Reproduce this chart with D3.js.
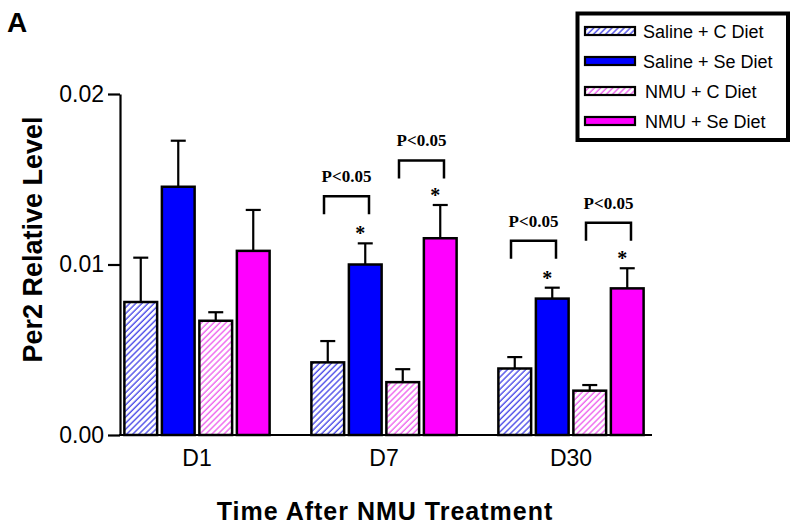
<!DOCTYPE html>
<html><head><meta charset="utf-8">
<script src="https://cdn.jsdelivr.net/npm/d3@7/dist/d3.min.js"></script>
<style>
body{margin:0;background:#fff;}
svg{display:block;}
</style></head>
<body>
<svg id="chart" width="800" height="529"></svg>
<script>
const groups = ["D1", "D7", "D30"];
const series = ["Saline + C Diet", "Saline + Se Diet", "NMU + C Diet", "NMU + Se Diet"];
const salineC = [0.0078, 0.00426, 0.0039];
const salineSe = [0.01456, 0.0100, 0.0080];
const nmuC = [0.0067, 0.0031, 0.0026];
const nmuSe = [0.0108, 0.01154, 0.0086];
const salineCErr = [0.0026, 0.00125, 0.00067];
const salineSeErr = [0.0027, 0.00124, 0.00064];
const nmuCErr = [0.0005, 0.00076, 0.00033];
const nmuSeErr = [0.0024, 0.00195, 0.00118];
const yTicks = [0, 0.01, 0.02];
const sigGroups = ["D7", "D7", "D30", "D30"];
const sigPairs = [[0, 1], [2, 3], [0, 1], [2, 3]];
const sigLevels = [0.0140, 0.0161, 0.0114, 0.01245];
const sigLabel = "P<0.05";
const starGroups = ["D7", "D7", "D30", "D30"];
const starSeries = [1, 3, 1, 3];

const means = [salineC, salineSe, nmuC, nmuSe];
const errs = [salineCErr, salineSeErr, nmuCErr, nmuSeErr];

const svg = d3.select("#chart");
const defs = svg.append("defs");
function hatch(id, color) {
  const p = defs.append("pattern").attr("id", id).attr("patternUnits", "userSpaceOnUse")
    .attr("width", 4.3).attr("height", 4.3).attr("patternTransform", "rotate(45)");
  p.append("rect").attr("width", 4.3).attr("height", 4.3).attr("fill", "#fff");
  p.append("line").attr("x1", 1).attr("y1", 0).attr("x2", 1).attr("y2", 4.3)
    .attr("stroke", color).attr("stroke-width", 1.4);
}
hatch("hBlue", "#4e4ee8");
hatch("hPink", "#ee66ee");
const fills = ["url(#hBlue)", "#0000ff", "url(#hPink)", "#ff00ff"];

const axisX = 120;
const y = d3.scaleLinear().domain([0, 0.02]).range([435, 94]);
const x0 = d3.scaleBand().domain(groups).range([103.5, 664.5]).paddingInner(0.21).paddingOuter(0.105);
const x1 = d3.scaleBand().domain(d3.range(series.length)).range([0, x0.bandwidth()]).paddingInner(0.06).paddingOuter(0);

const font = "'Liberation Sans', Arial, sans-serif";
const serif = "'Liberation Serif', 'Times New Roman', serif";

const sw = 2.5;
const barData = [];
groups.forEach((g, gi) => series.forEach((s, si) => barData.push({g, si, v: means[si][gi], e: errs[si][gi]})));

const eb = svg.append("g").attr("stroke", "#000").attr("stroke-width", 2.2);
barData.forEach(d => {
  const cx = x0(d.g) + x1(d.si) + x1.bandwidth() / 2;
  eb.append("line").attr("x1", cx).attr("x2", cx).attr("y1", y(d.v)).attr("y2", y(d.v + d.e));
  eb.append("line").attr("x1", cx - 7.5).attr("x2", cx + 7.5).attr("y1", y(d.v + d.e)).attr("y2", y(d.v + d.e));
});

svg.append("g").selectAll("rect").data(barData).join("rect")
  .attr("x", d => x0(d.g) + x1(d.si) + sw / 2)
  .attr("width", x1.bandwidth() - sw)
  .attr("y", d => y(d.v))
  .attr("height", d => y(0) - y(d.v))
  .attr("fill", d => fills[d.si])
  .attr("stroke", "#000").attr("stroke-width", sw);

const yAxis = svg.append("g").attr("transform", `translate(${axisX},0)`)
  .call(d3.axisLeft(y).tickValues(yTicks).tickFormat(d3.format(".2f")).tickSize(12).tickSizeOuter(0).tickPadding(4));
yAxis.select(".domain").attr("stroke-width", 2.2);
yAxis.selectAll(".tick line").attr("stroke-width", 2.2);
yAxis.selectAll("text").attr("font-family", font).attr("font-size", 23).attr("fill", "#000");

const xAxis = svg.append("g").attr("transform", `translate(0,${y(0)})`)
  .call(d3.axisBottom(x0).tickSize(0).tickPadding(15));
xAxis.select(".domain").remove();
xAxis.selectAll("text").attr("font-family", font).attr("font-size", 23).attr("fill", "#000");
svg.append("line").attr("x1", axisX - 1).attr("x2", x0.range()[1] - 12.5)
  .attr("y1", y(0)).attr("y2", y(0)).attr("stroke", "#000").attr("stroke-width", 2.2);

svg.append("text").attr("transform", "translate(42,239.5) rotate(-90)")
  .attr("text-anchor", "middle").attr("font-family", font).attr("font-weight", "bold")
  .attr("font-size", 27).text("Per2 Relative Level");
svg.append("text").attr("x", 385).attr("y", 520).attr("text-anchor", "middle")
  .attr("font-family", font).attr("font-weight", "bold").attr("font-size", 25)
  .attr("letter-spacing", 1).text("Time After NMU Treatment");
svg.append("text").attr("x", 7).attr("y", 32).attr("font-family", font)
  .attr("font-weight", "bold").attr("font-size", 28).text("A");

const step = x1.step();
sigGroups.forEach((g, i) => {
  const [a, b] = sigPairs[i];
  const ca = x0(g) + x1(a) + x1.bandwidth() / 2;
  const cb = x0(g) + x1(b) + x1.bandwidth() / 2;
  const mid = (ca + cb) / 2;
  const half = step * 0.6;
  const yt = y(sigLevels[i]);
  svg.append("path")
    .attr("d", `M${mid - half},${yt + 18}V${yt}H${mid + half}V${yt + 18}`)
    .attr("fill", "none").attr("stroke", "#000").attr("stroke-width", 2.5);
  svg.append("text").attr("x", mid).attr("y", yt - 14).attr("text-anchor", "middle")
    .attr("font-family", serif).attr("font-weight", "bold").attr("font-size", 17).text(sigLabel);
});

starGroups.forEach((g, i) => {
  const si = starSeries[i];
  const gi = groups.indexOf(g);
  const cx = x0(g) + x1(si) + x1.bandwidth() / 2 - 5;
  const top = y(means[si][gi] + errs[si][gi]);
  svg.append("text").attr("x", cx).attr("y", top - 3).attr("text-anchor", "middle")
    .attr("font-family", serif).attr("font-weight", "bold").attr("font-size", 20).text("*");
});

const lg = svg.append("g");
lg.append("rect").attr("x", 577.5).attr("y", 13.5).attr("width", 210.5).attr("height", 126.5)
  .attr("fill", "#fff").attr("stroke", "#000").attr("stroke-width", 4);
series.forEach((s, i) => {
  const cy = 31 + i * 30;
  lg.append("rect").attr("x", 585).attr("y", cy - 4).attr("width", 50).attr("height", 8)
    .attr("fill", fills[i]).attr("stroke", "#000").attr("stroke-width", 2.2);
  lg.append("text").attr("x", i < 2 ? 643 : 645).attr("y", cy + 6.5).attr("font-family", font)
    .attr("font-size", 18).text(s);
});
</script>
</body></html>
